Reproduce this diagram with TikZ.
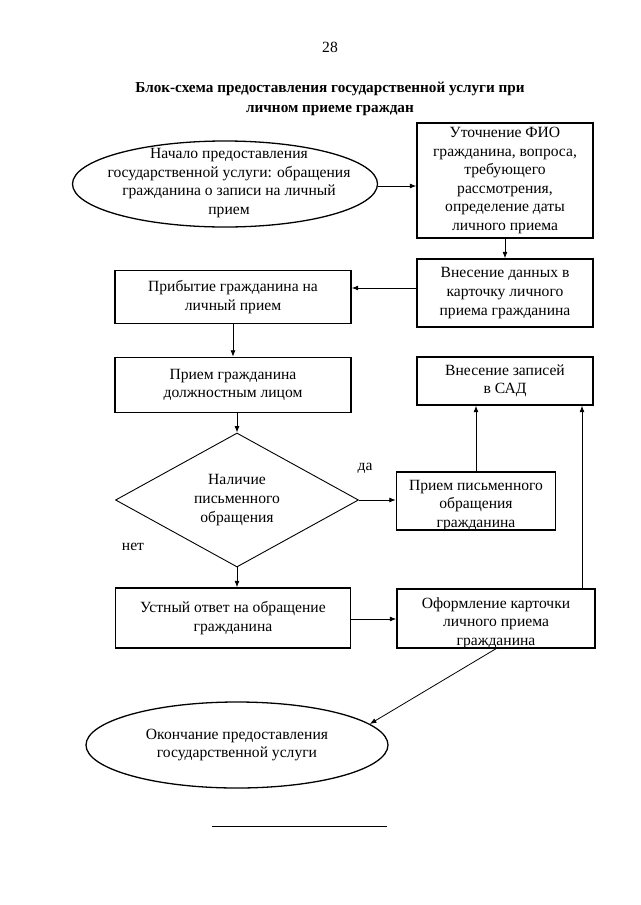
\documentclass[tikz,border=0pt]{standalone}
\usepackage{fontspec}
\setmainfont{Liberation Serif}
\usetikzlibrary{shapes.geometric,arrows.meta,calc}
\begin{document}
\begin{tikzpicture}[x=1pt,y=-1pt,
  every node/.style={font=\fontsize{15.6}{18.6}\selectfont, align=center, inner sep=0pt},
  box/.style={draw, line width=1.4pt, rectangle},
  oval/.style={draw, line width=1.3pt, ellipse},
  cond/.style={draw, line width=0.9pt, diamond},
  arr/.style={line width=0.8pt, -{Latex[length=6.5pt,width=5pt]}},
  plain/.style={line width=0.8pt}]
\useasboundingbox (0,0) rectangle (640,905);

\node (pg) at (330,47) {28};
\node[font=\fontsize{15.2}{20}\selectfont\bfseries] (title) at (330,98.5) {Блок-схема предоставления государственной услуги при\\ личном приеме граждан};

% start ellipse
\node[oval, minimum width=305pt, minimum height=86pt] (e1) at (225,184) {};
\node (e1t) at (229,183) {Начало предоставления\\ государственной услуги: обращения\\ гражданина о записи на личный\\ прием};

\node[box, minimum width=176pt, minimum height=115pt] (b1) at (505,180.5)
  {Уточнение ФИО\\ гражданина, вопроса,\\ требующего\\ рассмотрения,\\ определение даты\\ личного приема};
\node[box, minimum width=176pt, minimum height=68pt] (b2) at (505,293)
  {Внесение данных в\\ карточку личного\\ приема гражданина};
\node[box, minimum width=236pt, minimum height=53pt] (b3) at (233,297)
  {Прибытие гражданина на\\ личный прием};
\node[box, minimum width=236pt, minimum height=55pt] (b4) at (233,385)
  {Прием гражданина\\ должностным лицом};
\node[box, minimum width=176pt, minimum height=48pt] (b5) at (505,381)
  {Внесение записей\\ в САД};
\node[cond, minimum width=243pt, minimum height=134pt] (d) at (237,500) {};
\node (dt) at (237,500) {Наличие\\ письменного\\ обращения};
\node[box, minimum width=159pt, minimum height=58pt] (b6) at (476,501) {};
\node (b6t) at (476,505.5) {Прием письменного\\ обращения\\ гражданина};
\node[box, minimum width=235pt, minimum height=60pt] (b7) at (233,618)
  {Устный ответ на обращение\\ гражданина};
\node[box, minimum width=198pt, minimum height=59pt] (b8) at (496,618.5) {};
\node (b8t) at (496,623) {Оформление карточки\\ личного приема\\ гражданина};
\node[oval, minimum width=302pt, minimum height=86pt] (e2) at (237,745)
  {Окончание предоставления\\ государственной услуги};

\node (yes) at (365,468) {да};
\node (no) at (133,547) {нет};

% connectors
\draw[arr] (e1.east |- 0,186) -- (b1.west |- 0,186);
\draw[arr] (b1.south) -- (b2.north);
\draw[arr] (b2.west |- 0,288) -- (b3.east |- 0,288);
\draw[arr] (b3.south) -- (b4.north);
\draw[arr] (d.north |- b4.south) -- (d.north);
\draw[arr] (d.east) -- (b6.west |- d.east);
\draw[arr] (d.south) -- (d.south |- b7.north);
\draw[arr] (b6.north) -- (b6.north |- b5.south);
\draw[arr] (b7.east |- 0,619) -- (b8.west |- 0,619);
\coordinate (up) at (582,0);
\draw[arr] (up |- b8.north) -- (up |- b5.south);
\draw[arr] (b8.south) -- (e2.9);

% bottom rule
\coordinate (r1) at (212,826);
\coordinate (r2) at (387,826);
\draw[plain] (r1) -- (r2);
\end{tikzpicture}
\end{document}
